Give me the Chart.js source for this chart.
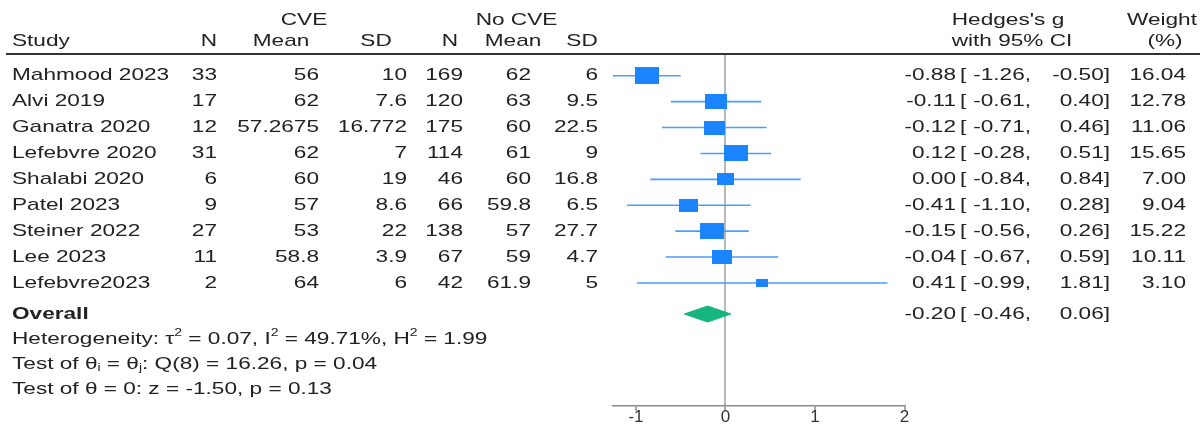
<!DOCTYPE html>
<html>
<head>
<meta charset="utf-8">
<script src="https://cdn.jsdelivr.net/npm/chart.js@4.4.1/dist/chart.umd.min.js"></script>
<style>
  html, body { margin: 0; padding: 0; background: #ffffff; }
  #c { display: block; }
</style>
</head>
<body>
<canvas id="c" width="1200" height="425"></canvas>
<script>
// ---- study data ----
const studies   = ['Mahmood 2023', 'Alvi 2019', 'Ganatra 2020', 'Lefebvre 2020', 'Shalabi 2020',
                   'Patel 2023', 'Steiner 2022', 'Lee 2023', 'Lefebvre2023'];
const cveN      = [33, 17, 12, 31, 6, 9, 27, 11, 2];
const cveMean   = [56, 62, 57.2675, 62, 60, 57, 53, 58.8, 64];
const cveSD     = [10, 7.6, 16.772, 7, 19, 8.6, 22, 3.9, 6];
const noN       = [169, 120, 175, 114, 46, 66, 138, 67, 42];
const noMean    = [62, 63, 60, 61, 60, 59.8, 57, 59, 61.9];
const noSD      = [6, 9.5, 22.5, 9, 16.8, 6.5, 27.7, 4.7, 5];
const effect    = [-0.88, -0.11, -0.12, 0.12, 0.00, -0.41, -0.15, -0.04, 0.41];
const lower     = [-1.26, -0.61, -0.71, -0.28, -0.84, -1.10, -0.56, -0.67, -0.99];
const upper     = [-0.50, 0.40, 0.46, 0.51, 0.84, 0.28, 0.26, 0.59, 1.81];
const weight    = [16.04, 12.78, 11.06, 15.65, 7.00, 9.04, 15.22, 10.11, 3.10];

// pooled estimate: [g, lower, upper]
const overall   = [-0.20, -0.46, 0.06];
// heterogeneity: tau^2, I^2 (%), H^2
const hetStats  = [0.07, 49.71, 1.99];
// homogeneity test: df, Q, p
const qTest     = [8, 16.26, 0.04];
// test of theta = 0: z, p
const zTest     = [-1.50, 0.13];

const xTicks    = [-1, 0, 1, 2];

// ---- styling / layout ----
const FONT = '"Liberation Sans", Arial, Helvetica, sans-serif';
const FONT_PX = 17;
const STRETCH = 1.33;          // horizontal text scaling of the table
const TEXT = '#222222';
const BLUE = '#1a85ff';
const CI_BLUE = '#4a9eff';
const GREEN = '#14b57f';

const PLOT_LEFT = 612.7, PLOT_RIGHT = 904.5;
const PLOT_TOP = 54, AXIS_H = 19.3;
const ROW_MIN = -0.84, ROW_MAX = 12.74;
const OVERALL_ROW = studies.length + 0.2;
const DIAMOND_HALF = 0.31;
const HEADER_Y1 = 20.7, HEADER_Y2 = 41.7;

// square marker sized from the study weight
function boxImage(w) {
  const side = 2.4 + 5.5 * Math.sqrt(w);
  const c = document.createElement('canvas');
  c.width = Math.round(side);
  c.height = Math.round(side * 0.68);
  const g = c.getContext('2d');
  g.fillStyle = BLUE;
  g.fillRect(0, 0, c.width, c.height);
  return c;
}

const fmt2 = v => v.toFixed(2);

// ---- datasets ----
const datasets = [];
studies.forEach((s, i) => {
  datasets.push({
    type: 'line',
    data: [{ x: lower[i], y: i }, { x: upper[i], y: i }],
    borderColor: CI_BLUE,
    borderWidth: 1.6,
    pointRadius: 0,
    fill: false,
    order: 3
  });
});
datasets.push({
  type: 'scatter',
  data: effect.map((g, i) => ({ x: g, y: i })),
  pointStyle: weight.map(w => boxImage(w)),
  pointRadius: 5,
  order: 1
});
// pooled diamond: upper and lower halves filled to the row line
[-1, 1].forEach(sign => {
  datasets.push({
    type: 'line',
    data: [
      { x: overall[1], y: OVERALL_ROW },
      { x: overall[0], y: OVERALL_ROW + sign * DIAMOND_HALF },
      { x: overall[2], y: OVERALL_ROW }
    ],
    borderColor: GREEN,
    borderWidth: 1,
    backgroundColor: GREEN,
    pointRadius: 0,
    tension: 0,
    fill: { value: OVERALL_ROW },
    order: 2
  });
});

// ---- text helpers ----
function drawText(ctx, s, x, y, align, bold) {
  ctx.save();
  ctx.font = (bold ? 'bold ' : '') + FONT_PX + 'px ' + FONT;
  ctx.textBaseline = 'middle';
  ctx.textAlign = align;
  ctx.fillStyle = TEXT;
  ctx.translate(x, y);
  ctx.scale(STRETCH, 1);
  ctx.fillText(s, 0, 0);
  ctx.restore();
}

// left-aligned text with superscript / subscript pieces
function drawRich(ctx, parts, x, y) {
  let cx = x;
  parts.forEach(p => {
    const [s, kind] = Array.isArray(p) ? p : [p, 'n'];
    const size = kind === 'n' ? FONT_PX : FONT_PX * 0.62;
    const dy = kind === 'sup' ? -FONT_PX * 0.33 : kind === 'sub' ? FONT_PX * 0.22 : 0;
    ctx.save();
    ctx.font = size + 'px ' + FONT;
    ctx.textBaseline = 'middle';
    ctx.textAlign = 'left';
    ctx.fillStyle = TEXT;
    const w = ctx.measureText(s).width * STRETCH;
    ctx.translate(cx, y + dy);
    ctx.scale(STRETCH, 1);
    ctx.fillText(s, 0, 0);
    ctx.restore();
    cx += w;
  });
}

function drawEstimate(ctx, g, lo, hi, y) {
  drawText(ctx, fmt2(g), 956, y, 'right');
  drawText(ctx, '[', 960, y, 'left');
  drawText(ctx, fmt2(lo) + ',', 1031, y, 'right');
  drawText(ctx, fmt2(hi) + ']', 1110, y, 'right');
}

const tablePlugin = {
  id: 'forestTable',
  afterDraw(chart) {
    const ctx = chart.ctx;
    const ys = chart.scales.y;

    // header rule
    ctx.save();
    ctx.strokeStyle = '#333333';
    ctx.lineWidth = 2;
    ctx.beginPath();
    ctx.moveTo(6, PLOT_TOP);
    ctx.lineTo(1200, PLOT_TOP);
    ctx.stroke();
    ctx.restore();

    // headers
    drawText(ctx, 'CVE', 304, HEADER_Y1, 'center');
    drawText(ctx, 'No CVE', 516.5, HEADER_Y1, 'center');
    drawText(ctx, "Hedges's g", 1008, HEADER_Y1, 'center');
    drawText(ctx, 'Weight', 1162, HEADER_Y1, 'center');
    drawText(ctx, 'Study', 12, HEADER_Y2, 'left');
    drawText(ctx, 'N', 209, HEADER_Y2, 'center');
    drawText(ctx, 'Mean', 281, HEADER_Y2, 'center');
    drawText(ctx, 'SD', 376, HEADER_Y2, 'center');
    drawText(ctx, 'N', 450, HEADER_Y2, 'center');
    drawText(ctx, 'Mean', 513, HEADER_Y2, 'center');
    drawText(ctx, 'SD', 582, HEADER_Y2, 'center');
    drawText(ctx, 'with 95% CI', 1012, HEADER_Y2, 'center');
    drawText(ctx, '(%)', 1165, HEADER_Y2, 'center');

    // study rows
    studies.forEach((s, i) => {
      const y = ys.getPixelForValue(i);
      drawText(ctx, s, 12, y, 'left');
      drawText(ctx, String(cveN[i]), 217, y, 'right');
      drawText(ctx, String(cveMean[i]), 319, y, 'right');
      drawText(ctx, String(cveSD[i]), 407, y, 'right');
      drawText(ctx, String(noN[i]), 463, y, 'right');
      drawText(ctx, String(noMean[i]), 531, y, 'right');
      drawText(ctx, String(noSD[i]), 598, y, 'right');
      drawEstimate(ctx, effect[i], lower[i], upper[i], y);
      drawText(ctx, fmt2(weight[i]), 1186, y, 'right');
    });

    // pooled row and test statistics
    const yo = ys.getPixelForValue(OVERALL_ROW);
    drawText(ctx, 'Overall', 12, yo, 'left', true);
    drawEstimate(ctx, overall[0], overall[1], overall[2], yo);

    const step = 0.965;
    drawRich(ctx, ['Heterogeneity: \u03C4', ['2', 'sup'], ' = ' + fmt2(hetStats[0]) + ', I', ['2', 'sup'],
                   ' = ' + fmt2(hetStats[1]) + '%, H', ['2', 'sup'], ' = ' + fmt2(hetStats[2])],
             12, ys.getPixelForValue(OVERALL_ROW + step));
    drawRich(ctx, ['Test of \u03B8', ['i', 'sub'], ' = \u03B8', ['j', 'sub'],
                   ': Q(' + qTest[0] + ') = ' + fmt2(qTest[1]) + ', p = ' + fmt2(qTest[2])],
             12, ys.getPixelForValue(OVERALL_ROW + 2 * step));
    drawRich(ctx, ['Test of \u03B8 = 0: z = ' + fmt2(zTest[0]) + ', p = ' + fmt2(zTest[1])],
             12, ys.getPixelForValue(OVERALL_ROW + 3 * step));
  }
};

new Chart(document.getElementById('c'), {
  data: { datasets },
  options: {
    responsive: false,
    animation: false,
    events: [],
    layout: { padding: { left: PLOT_LEFT, right: 1200 - PLOT_RIGHT, top: PLOT_TOP, bottom: 0 } },
    plugins: { legend: { display: false }, tooltip: { enabled: false } },
    scales: {
      x: {
        type: 'linear',
        min: Math.min(...lower),
        max: xTicks[xTicks.length - 1],
        afterBuildTicks: s => { s.ticks = xTicks.map(v => ({ value: v })); },
        afterFit: s => { s.height = AXIS_H; },
        grid: {
          color: c => (c.tick && c.tick.value === 0) ? '#b8b8b8' : 'rgba(0,0,0,0)',
          lineWidth: 2,
          tickLength: 5,
          tickColor: '#8a8a8a',
          tickWidth: 1.5
        },
        border: { display: true, color: '#8a8a8a', width: 1.5 },
        ticks: {
          font: { family: FONT, size: 17 },
          color: '#333333',
          padding: -4,
          autoSkip: false,
          maxRotation: 0
        }
      },
      y: { type: 'linear', reverse: true, min: ROW_MIN, max: ROW_MAX, display: false }
    }
  },
  plugins: [tablePlugin]
});
</script>
</body>
</html>
